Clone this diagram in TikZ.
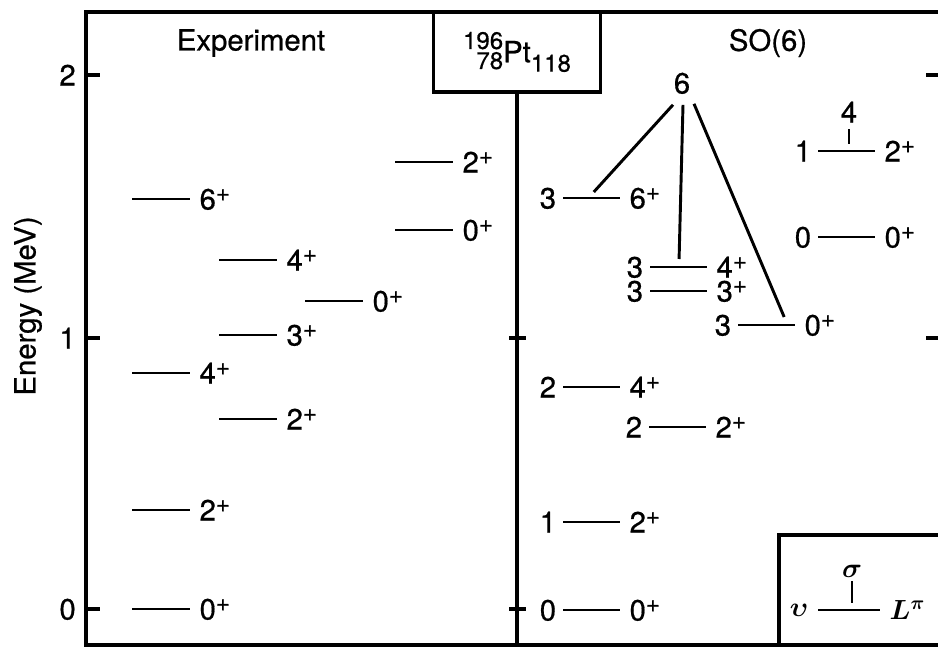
\documentclass[tikz,border=0pt]{standalone}
\usepackage{bm}
\usepackage{fontspec}
\setmainfont{TeX Gyre Heros}[FakeBold=0.6]
\usetikzlibrary{positioning,calc}
\tikzset{
  lev/.style={line width=2.2pt},
  frm/.style={line width=2.4pt},
  lbl/.style={inner sep=0pt,text height=15.8pt,text depth=0pt},
}
\newcommand\spin[1]{#1\raisebox{6.5pt}{\fontsize{18}{18}\selectfont+}}
\newcommand\iso[4]{\raisebox{10pt}{\fontsize{18}{18}\selectfont#1}\llap{\raisebox{-5pt}{\fontsize{18}{18}\selectfont#2}}#3\raisebox{-7pt}{\fontsize{18}{18}\selectfont#4}}
\begin{document}
\begin{tikzpicture}[x=0.75pt,y=-0.75pt,font=\fontsize{22}{26}\selectfont]
\useasboundingbox (0,0) rectangle (938,648);
\draw[frm] (938,12) -- (86,12) -- (86,645) -- (938,645);
\node[frm,draw,minimum width=125pt,minimum height=60pt,inner sep=0pt] (nucl) at (517,52) {\iso{196}{78}{Pt}{118}};
\coordinate (divb) at (517,645);
\draw[frm] (nucl.south) -- (divb);
\foreach \e/\py in {0/609,1/338,2/75} {
  \draw[frm] (86,\py) -- (100,\py);
  \node[lbl,anchor=east] (e\e) at (76,\py) {\e};
}
\foreach \py in {609,338} \draw[frm] (509,\py) -- (526,\py);
\foreach \py in {75,338} \draw[frm] (926,\py) -- (938,\py);
\node[rotate=90] (elab) at (28,306) {Energy (MeV)};
\node (expt) at (251,43) {Experiment};
\node (so6) at (768,43) {SO(6)};
\foreach \nm/\x/\y/\j in {ea/132/609/0, eb/132/510/2, ec/132/373/4, ed/132/199/6, ee/219/419/2, ef/219/335/3, eg/219/260/4, eh/305/301/0, ei/395/230/0, ej/395/162/2} {
  \coordinate (\nm-l) at (\x,\y);
  \coordinate (\nm-r) at (\x+58,\y);
  \draw[lev] (\nm-l) -- (\nm-r);
  \node[lbl,right=7pt of \nm-r] (\nm-j) {\spin{\j}};
}
\foreach \nm/\x/\y/\v/\j in {sa/563/610/0/0, sb/563/522/1/2, sc/563/387/2/4, sd/649/427/2/2, se/563/198/3/6, sf/650/267/3/4, sg/650/291/3/3, sh/738/325/3/0, si/818/237/0/0, sj/818/151/1/2} {
  \coordinate (\nm-l) at (\x,\y);
  \coordinate (\nm-r) at (\x+57,\y);
  \draw[lev] (\nm-l) -- (\nm-r);
  \node[lbl,left=5pt of \nm-l] (\nm-v) {\v};
  \node[lbl,right=7pt of \nm-r] (\nm-j) {\spin{\j}};
}
\node[lbl] (six) at (682,83) {6};
\draw[lev] ([shift={(-9,11)}]six.south) -- ([yshift=4.5pt]$(se-l)!0.54!(se-r)$);
\draw[lev] ([shift={(1,11)}]six.south) -- ([yshift=6pt]$(sf-l)!0.51!(sf-r)$);
\draw[lev] ([shift={(12,10)}]six.south) -- ([yshift=6pt]$(sh-l)!0.81!(sh-r)$);
\node[lbl] (four) at (849,112) {4};
\draw[lev] ([yshift=-5pt]four.south) -- ($(four.south |- sj-l)+(0,-7)$);
\draw[frm] (938,535) -- (779,535) -- (779,645);
\coordinate (lg-l) at (818,610);
\coordinate (lg-r) at (880,610);
\draw[lev] (lg-l) -- (lg-r);
\node[inner sep=0pt,left=7pt of lg-l] (lg-v) {$\bm{\upsilon}$};
\node[inner sep=0pt,right=7pt of lg-r] (lg-j) {$\bm{L^{\pi}}$};
\node[inner sep=0pt] (lg-s) at (852,571) {$\bm{\sigma}$};
\draw[lev] ([yshift=-3pt]lg-s.south) -- ($(lg-s.south |- lg-l)+(0,-7)$);
\end{tikzpicture}
\end{document}
